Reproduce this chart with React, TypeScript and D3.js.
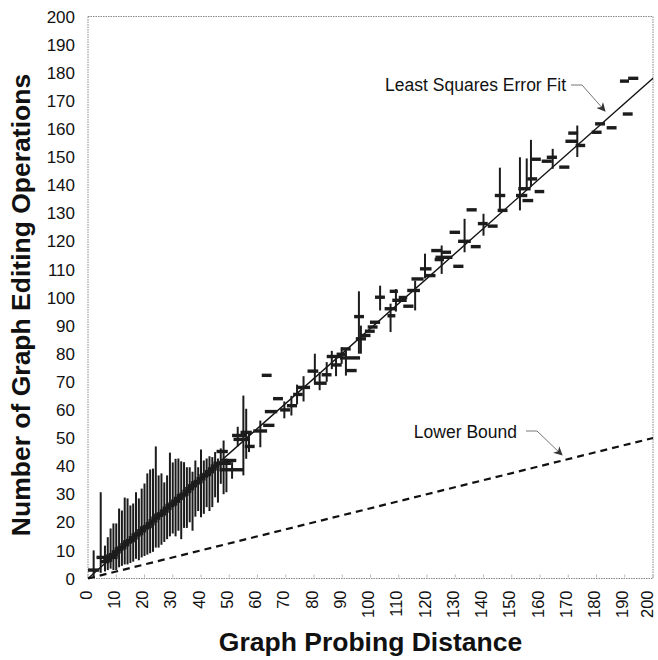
import React from 'react';
import * as d3 from 'd3';

const W = 658;
const H = 660;

// tick values
const xTickValues = [0, 10, 20, 30, 40, 50, 60, 70, 80, 90, 100, 110, 120, 130, 140, 150, 160, 170, 180, 190, 200];
const yTickValues = [0, 10, 20, 30, 40, 50, 60, 70, 80, 90, 100, 110, 120, 130, 140, 150, 160, 170, 180, 190, 200];

// rows: [probing distance, mean ops, min ops, max ops, dash from, dash to]
type Row = [number, number, number | null, number | null, number?, number?];
const denseRows: Row[] = [
  [2, 3, 0.5, 10, 0, 4],
  [4.5, 7.5, 2, 30.7, 3, 10.5],
  [6, 6, 2.5, 11.7],
  [7, 6.5, 3, 14.7],
  [8, 8, 3.5, 17.8],
  [9, 8.5, 3, 19.6],
  [10, 9.5, 3, 19.6],
  [11, 10.5, 4, 24.9],
  [12, 11, 4.5, 24.2],
  [13, 12, 5, 28.8],
  [14, 13, 5, 28.5],
  [15, 13.5, 5.5, 26],
  [16, 14.5, 6, 26.7],
  [17, 15.5, 7, 30.7],
  [18, 16, 6.5, 28.5],
  [19, 17, 7.5, 32],
  [20, 18, 8, 33.8],
  [21, 18.5, 8.5, 37.4],
  [22, 19.5, 9, 38.8],
  [23, 20.5, 9.5, 39.1],
  [24, 21.5, 11, 47],
  [25, 22.5, 11, 36.7],
  [26, 23, 12, 37.4],
  [27, 24, 13, 34.2],
  [28, 25, 14, 36.7],
  [29, 26, 15, 44.8],
  [30, 26.5, 16, 41.3],
  [31, 27.5, 15, 42.6],
  [32, 28.5, 17, 42.7],
  [33, 29.5, 14, 41.7],
  [34, 30, 18, 41.4],
  [35, 31, 18, 39.6],
  [36, 32, 20, 39.6],
  [37, 33, 17, 38],
  [38, 34, 22, 42],
  [39, 34.5, 24, 39.6],
  [40, 35.5, 21.8, 45.9],
  [41, 36.5, 23, 42],
  [42, 37, 25.4, 42.7],
  [43, 38, 24, 43.5],
  [44, 39, 25.4, 43.2],
  [45, 40, 28.9, 45],
  [46, 41, 27, 42.7],
  [47, 45.2, 33.7, 46.3, 45.5, 49.5],
  [48, 42, 30, 49.1, 47.5, 52.5],
  [49, 41, 30.7, 42.7],
  [51, 38.7, 35.5, 41.4, 46.5, 55],
  [53, 50.9, 47, 54, 51, 56],
  [55, 49.5, 36.7, 65.1, 51.5, 57],
  [56, 52, 42.6, 60.4, 54, 58],
  [57, 47, 45, 51.6, 55.5, 59],
  [61, 52.5, 46.7, 56.2, 58.5, 63.4],
];

const sparseRows: Row[] = [
  [64, 54.5, null, null, 62, 66],
  [63, 72.3, null, null, 61.5, 65],
  [67, 64, null, null, 65.5, 69],
  [65, 59.4, null, null, 62.6, 67],
  [69.5, 60, 57, 63, 68, 71.5],
  [72, 61.5, 58, 65, 70.4, 74],
  [74, 65.5, 62, 69, 72.6, 76],
  [76.3, 68, 63, 72, 74, 78.6],
  [80.3, 73.8, 69.3, 80, 77.7, 81.5],
  [82, 69.5, 67, 73.5, 80, 84.5],
  [84.5, 72.5, 70, 77, 82.7, 86.2],
  [86.3, 79, 74.5, 81, 84.5, 89.8],
  [87.8, 76, 72, 79, 86.3, 89.8],
  [89.8, 79.8, 76.4, 82.3, 88, 91.5],
  [91.3, 81.7, 72.2, 81.7, 89.5, 93],
  [92.5, 78.5, null, null, 89.2, 96.3],
  [93, 74, null, null, 91, 95.1],
  [95.9, 93.2, 80, 102.2, 94.2, 97.7],
  [96.6, 85.3, 80, 90, 94.8, 98.4],
  [98, 86.5, null, null, 96.5, 100],
  [100, 88, null, null, 98, 101.5],
  [101, 89.5, null, null, 99, 102.5],
  [101.6, 91.2, null, null, 99.8, 103.4],
  [103.4, 100.1, 95.4, 104.2, 101.6, 105.1],
  [107.1, 96, 87.7, 97.8, 105, 109],
  [107.4, 93.5, null, null, 106, 108.8],
  [109, 102.2, 95, 103, 106.8, 109.7],
  [110, 99, null, null, 107.7, 112.8],
  [113.4, 96.9, null, null, 111.6, 115.2],
  [111.5, 100, null, null, 110, 113],
  [115.8, 102.5, 95.4, 106, 113, 117.5],
  [117, 106.6, null, null, 114.5, 118.8],
  [119.3, 110.2, 106.8, 115.6, 117.5, 121.6],
  [121.3, 107.8, null, null, 119.5, 123],
  [125.2, 116.7, 108.4, 118.5, 121.5, 125.2],
  [126.8, 116.1, null, null, 125, 128.5],
  [126, 114.3, null, null, 123, 129],
  [124.4, 113.5, null, null, 122.7, 126],
  [131.1, 111.1, null, null, 129.3, 132.9],
  [133.3, 120, 116.1, 128, 131, 135.5],
  [137.3, 118.1, null, null, 135.5, 139],
  [129.9, 123.2, null, null, 128, 131.7],
  [140, 126.3, 122, 129.8, 138, 141.5],
  [143.3, 125.4, null, null, 141.5, 145],
  [135.8, 131.2, null, null, 134, 137.6],
  [145.8, 136.3, 130.4, 146.2, 144, 147.7],
  [146.8, 131, null, null, 145, 148.5],
  [152.9, 136.3, 131, 149.9, 151.5, 155.5],
  [155.7, 134.5, null, null, 153.8, 157.6],
  [155.3, 138.7, 138.5, 149.5, 152.3, 156.7],
  [156.8, 142.2, 139.3, 156.1, 155.5, 159],
  [158.4, 149.2, null, null, 156.5, 160.3],
  [159.8, 137.7, null, null, 158.1, 161.5],
  [164.5, 149.9, 145.8, 152.9, 162.4, 166],
  [162.4, 148.5, null, null, 160.6, 164.2],
  [168.6, 146.4, null, null, 166.8, 170.4],
  [173.2, 155.6, 150, 161.2, 169, 173.2],
  [171.8, 158.5, null, null, 170, 173.5],
  [174.3, 154.1, null, null, 172.6, 176],
  [180, 158.8, null, null, 178.3, 181.8],
  [181.3, 161.8, null, null, 179.5, 183],
  [185.3, 160.4, null, null, 183.6, 187.1],
  [191, 165.3, null, null, 189.3, 192.8],
  [190, 177, null, null, 188.3, 191.5],
  [193, 178, null, null, 191.2, 194.8],
];

// reference lines: [x, y] endpoints
const fitLine: [number, number][] = [[0, 0], [200, 178]];
const lowerBound: [number, number][] = [[0, 0], [200, 50]];

const xTitle = 'Graph Probing Distance';
const yTitle = 'Number of Graph Editing Operations';
const fitLabel = 'Least Squares Error Fit';
const boundLabel = 'Lower Bound';

const FONT = '"Liberation Sans", Arial, Helvetica, sans-serif';

export default function App() {
  const left = 88, right = 653, top = 16.5, bottom = 578.5;
  const x = d3.scaleLinear().domain([0, 200]).range([left, right]);
  const y = d3.scaleLinear().domain([0, 200]).range([bottom, top]);
  const line = d3.line<[number, number]>().x(d => x(d[0])).y(d => y(d[1]));
  const rows = [...denseRows, ...sparseRows];
  const ink = '#1c1c1c';
  const xLabelSize = 16.5;

  return (
    <svg width={W} height={H} style={{ position: 'absolute', left: 0, top: 0, background: '#fff' }}
      fontFamily={FONT}>
      <defs>
        <marker id="arr" viewBox="0 0 10 10" refX="9" refY="5" markerWidth="9" markerHeight="9" orient="auto-start-reverse" markerUnits="userSpaceOnUse">
          <path d="M0,0 L10,5 L0,10 L3,5 z" fill="#333" />
        </marker>
      </defs>
      <rect x={0} y={0} width={W} height={H} fill="#fff" />
      {/* plot border */}
      <rect x={left} y={top} width={right - left} height={bottom - top} fill="none" stroke="#888" strokeWidth={1} strokeDasharray="1.5,1" />
      {/* x tick marks */}
      {xTickValues.map(v => (
        <line key={'xt' + v} x1={x(v)} x2={x(v)} y1={bottom - 1} y2={bottom - 4} stroke="#bbb" strokeWidth={1} />
      ))}
      {/* y tick labels */}
      {yTickValues.map(v => (
        <text key={'yl' + v} x={left - 13} y={y(v)} dy="0.36em" textAnchor="end" fontSize={17} fill="#111">{v}</text>
      ))}
      {/* x tick labels (baseline kept inside the page) */}
      {xTickValues.map(v => {
        const base = Math.min(x(v) + 0.22 * xLabelSize, W - 5);
        return (
          <text key={'xl' + v} transform={`translate(${base},${bottom + 12}) rotate(-90)`} textAnchor="end" fontSize={xLabelSize} fill="#111">{v}</text>
        );
      })}
      {/* titles */}
      <text x={(left + right) / 2} y={651} textAnchor="middle" fontSize={26.5} fontWeight="bold" fill="#111">{xTitle}</text>
      <text transform={`translate(30,305) rotate(-90)`} textAnchor="middle" fontSize={26.5} fontWeight="bold" fill="#111">{yTitle}</text>

      {/* lower bound & fit */}
      <path d={line(lowerBound) || ''} fill="none" stroke="#111" strokeWidth={2.2} strokeDasharray="7,5" />
      <path d={line(fitLine) || ''} fill="none" stroke="#111" strokeWidth={1.4} />

      {/* error bars */}
      {rows.map((r, i) => {
        const [px, mean, lo, hi, d0, d1] = r;
        const a = d0 !== undefined ? d0 : px - 1.6;
        const b = d1 !== undefined ? d1 : px + 1.6;
        return (
          <g key={'r' + i}>
            {lo !== null && hi !== null && (
              <line x1={x(px)} x2={x(px)} y1={y(lo)} y2={y(hi)} stroke={ink} strokeWidth={2} />
            )}
            <line x1={x(a)} x2={x(b)} y1={y(mean)} y2={y(mean)} stroke={ink} strokeWidth={3.4} />
          </g>
        );
      })}

      {/* annotations */}
      <text x={566} y={91} textAnchor="end" fontSize={17.5} fill="#111">{fitLabel}</text>
      <path d="M571,85 L582,85 L605,111" fill="none" stroke="#666" strokeWidth={0.9} markerEnd="url(#arr)" />
      <text x={517} y={438} textAnchor="end" fontSize={17.5} fill="#111">{boundLabel}</text>
      <path d="M526,431 L537,431 L562,455" fill="none" stroke="#666" strokeWidth={0.9} markerEnd="url(#arr)" />
    </svg>
  );
}
